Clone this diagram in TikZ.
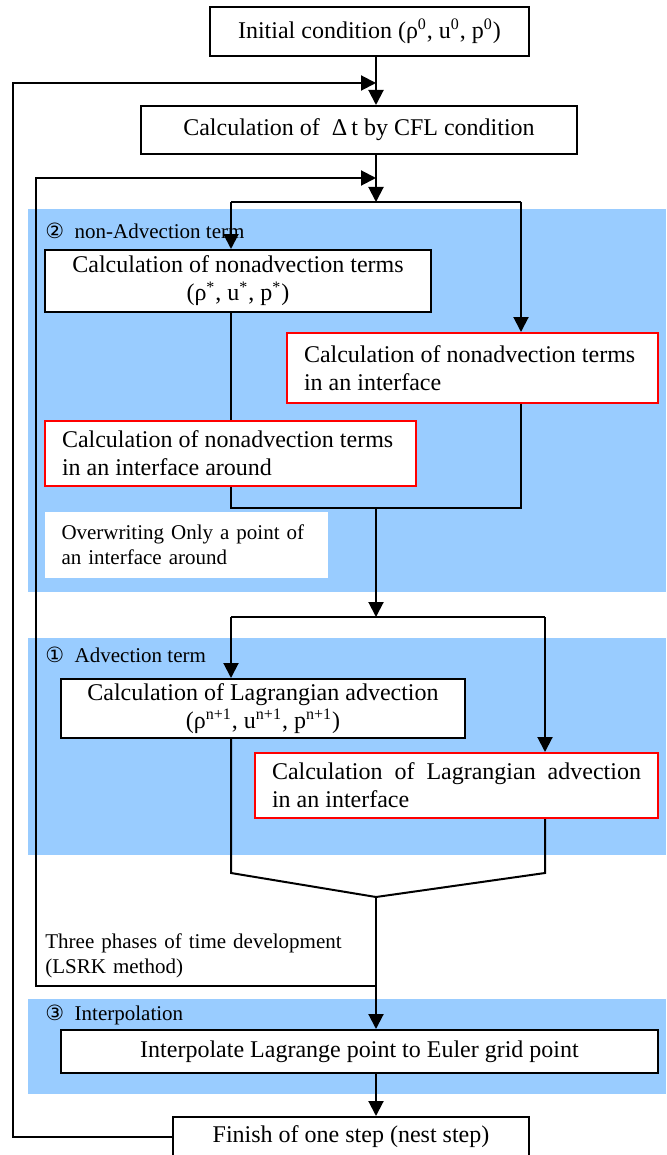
\documentclass[tikz,border=0pt]{standalone}
\usepackage{fontspec}
\setmainfont{Liberation Serif}
\newfontfamily\circfont{DejaVu Sans}
\usetikzlibrary{arrows.meta,positioning}
\definecolor{bandblue}{RGB}{153,204,255}

\begin{document}
\begin{tikzpicture}[x=0.5pt,y=-0.5pt,
  box/.style={draw,line width=1pt,fill=white,inner sep=0pt,font=\fontsize{12}{14}\selectfont},
  redbox/.style={box,draw=red,inner xsep=8.5pt,align=justify},
  note/.style={fill=white,inner xsep=8.5pt,inner ysep=0pt,align=left,font=\fontsize{10.5}{12.5}\selectfont},
  tag/.style={anchor=west,inner sep=0pt,font=\fontsize{10.5}{12.5}\selectfont},
  arr/.style={line width=1pt,-{Triangle[length=7.5pt,width=7.5pt]}},
  link/.style={line width=1pt}]
  \useasboundingbox (0,0) rectangle (666,1155);
  \fill[bandblue] (28,209) rectangle (666,592);
  \fill[bandblue] (28,638) rectangle (666,855);
  \fill[bandblue] (28,999) rectangle (666,1094);
  \node[tag] (tagnadv) at (45,231) {{\circfont ②}\ \ non-Advection term};
  \node[tag] (tagadv) at (45,655) {{\circfont ①}\ \ Advection term};
  \node[tag] (taginterp) at (45,1015) {{\circfont ③}\ \ Interpolation};
  \node[box,minimum width=159.5pt,minimum height=24.5pt] (init) at (369.5,31.5) {Initial condition (ρ\textsuperscript{0}, u\textsuperscript{0}, p\textsuperscript{0})};
  \node[box,minimum width=218pt,minimum height=24pt] (cfl) at (359,130) {Calculation of~~Δ\,t by CFL condition};
  \node[box,align=center,minimum width=193pt,minimum height=31pt] (nadv) at (238,281) {Calculation of nonadvection terms\\(ρ\textsuperscript{*}, u\textsuperscript{*}, p\textsuperscript{*})};
  \node[redbox,text width=168.5pt,minimum height=35pt] (nadvi) at (472.5,368) {Calculation of nonadvection terms\\in an interface};
  \node[redbox,text width=168.5pt,minimum height=32.5pt] (nadva) at (230.5,453.5) {Calculation of nonadvection terms\\in an interface around};
  \node[note,text width=124.5pt,minimum height=33pt] (overwrite) at (186,545) {\makebox[124.5pt][s]{Overwriting Only a point of}\\an interface around};
  \node[box,align=center,minimum width=202pt,minimum height=29.5pt] (lag) at (263,708.5) {Calculation of Lagrangian advection\\(ρ\textsuperscript{n+1}, u\textsuperscript{n+1}, p\textsuperscript{n+1})};
  \node[redbox,text width=184.5pt,minimum height=32.5pt] (lagi) at (456.5,785.5) {\makebox[184.5pt][s]{Calculation of Lagrangian advection}\\in an interface};
  \node[note,fill=none,anchor=west,inner sep=0pt,text width=160pt] (phases) at (45,955.5) {\makebox[153.5pt][s]{Three phases of time development}\\(LSRK method)};
  \node[box,minimum width=298.5pt,minimum height=21.5pt] (interp) at (359.5,1051.5) {Interpolate Lagrange point to Euler grid point};
  \node[box,minimum width=178pt,minimum height=20pt] (finish) at (351,1137) {Finish of one step (nest step)};
  \coordinate (spine) at (376,0);
  \coordinate (outer) at (13,83);
  \coordinate (inner) at (36,178);
  \coordinate (s1a) at (231,202);
  \coordinate (s1) at (376,202);
  \coordinate (s1b) at (521,202);
  \coordinate (j1a) at (231,508);
  \coordinate (j1) at (376,508);
  \coordinate (j1b) at (521,508);
  \coordinate (s2a) at (231,617);
  \coordinate (s2) at (376,617);
  \coordinate (s2b) at (545,617);
  \coordinate (j2a) at (231,873);
  \coordinate (j2) at (376,897);
  \coordinate (j2b) at (545,873);
  \coordinate (lsrk) at (376,986);
  \draw[arr] (init.south -| spine) -- (cfl.north -| spine);
  \draw[arr] (finish.west) -| (outer) -- (outer -| spine);
  \draw[arr] (cfl.south -| spine) -- (s1);
  \draw[link] (s1a) -- (s1b);
  \draw[arr] (s1a) -- (nadv.north -| s1a);
  \draw[arr] (s1b) -- (nadvi.north -| s1b);
  \draw[link] (nadv.south -| s1a) -- (nadva.north -| s1a);
  \draw[link] (nadva.south -| s1a) -- (j1a) -- (j1b) -- (nadvi.south -| s1b);
  \draw[arr] (j1) -- (s2);
  \draw[link] (s2a) -- (s2b);
  \draw[arr] (s2a) -- (lag.north -| s2a);
  \draw[arr] (s2b) -- (lagi.north -| s2b);
  \draw[link] (lag.south -| s2a) -- (j2a) -- (j2) -- (j2b) -- (lagi.south -| s2b);
  \draw[arr] (j2) -- (interp.north -| spine);
  \draw[arr] (lsrk) -| (inner) -- (inner -| spine);
  \draw[arr] (interp.south -| spine) -- (finish.north -| spine);
\end{tikzpicture}
\end{document}
